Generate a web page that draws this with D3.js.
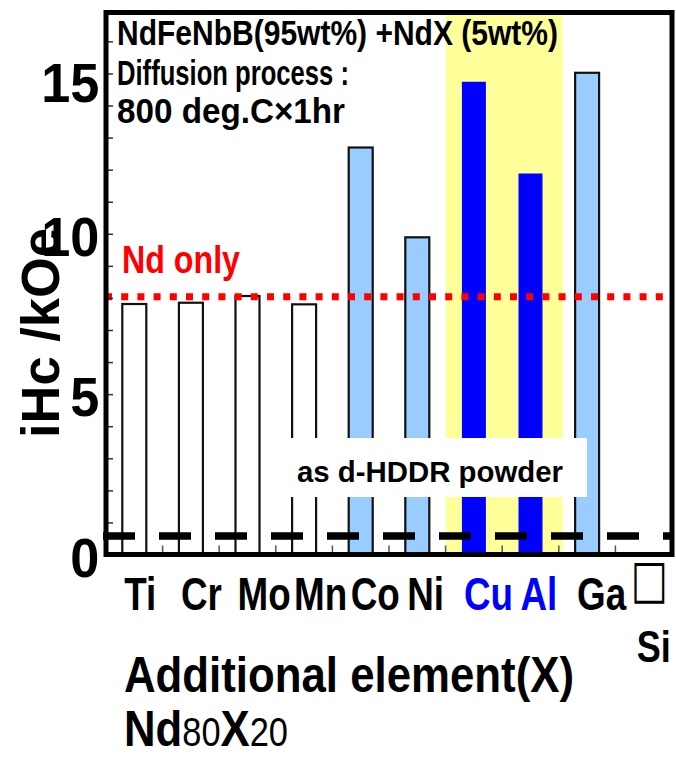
<!DOCTYPE html>
<html>
<head>
<meta charset="utf-8">
<script src="https://cdn.jsdelivr.net/npm/d3@7"></script>
<style>
  html, body { margin: 0; padding: 0; background: #fff; }
  svg { display: block; }
</style>
</head>
<body>
<svg id="chart" width="676" height="757"></svg>
<script>
// Coercivity of NdFeNbB d-HDDR powder blended with 5 wt% Nd80X20, per additive X
const elements = ["Ti", "Cr", "Mo", "Mn", "Co", "Ni", "Cu", "Al", "Ga", "Si"];
const iHc = [7.81, 7.85, 8.06, 7.80, 12.69, 9.89, 14.74, 11.88, 15.02, null];
const barKind = ["plain", "plain", "plain", "plain", "light", "light", "strong", "strong", "light", "plain"];
const highlighted = ["Cu", "Al"];
const yTickLabels = [0, 5, 10, 15];
const ndOnlyLevel = 8.04;     // Nd-only addition
const hddrLevel = 0.58;       // as d-HDDR powder

const FONT = "'Liberation Sans', Arial, 'Noto Sans', sans-serif";
const fills = { plain: "#ffffff", light: "#99ccff", strong: "#0000ff" };
const frame = { left: 106, right: 672, top: 12.5, bottom: 554.5 };

const svg = d3.select("#chart");

const x = d3.scaleBand()
  .domain(elements)
  .range([frame.left, frame.right])
  .paddingInner(0.576)
  .paddingOuter(0.288);

const y = d3.scaleLinear()
  .domain([0, 16.9])
  .range([frame.bottom, frame.top]);

const halfGap = x.step() * x.paddingInner() / 2;

// bold, horizontally condensed text
function label(parent, str, px, py, size, sx, fill) {
  return parent.append("text")
    .attr("transform", `translate(${px},${py}) scale(${sx},1)`)
    .attr("font-family", FONT)
    .attr("font-weight", "bold")
    .attr("font-size", size)
    .attr("fill", fill || "#000")
    .text(str);
}

// bold text squeezed or stretched to a given run length
function fitted(parent, str, px, py, size, len, fill) {
  return parent.append("text")
    .attr("x", px).attr("y", py)
    .attr("font-family", FONT)
    .attr("font-weight", "bold")
    .attr("font-size", size)
    .attr("fill", fill || "#000")
    .attr("textLength", len)
    .attr("lengthAdjust", "spacingAndGlyphs")
    .text(str);
}

// highlighted Cu / Al column
const hx0 = x(highlighted[0]) - halfGap;
const hx1 = x(highlighted[highlighted.length - 1]) + x.bandwidth() + halfGap + 4;
svg.append("rect")
  .attr("x", hx0).attr("y", frame.top)
  .attr("width", hx1 - hx0).attr("height", frame.bottom - frame.top)
  .attr("fill", "#ffff99");

// bars
const rows = elements.map((e, i) => ({ e, v: iHc[i], kind: barKind[i] }))
  .filter(d => d.v != null);
svg.append("g").selectAll("rect")
  .data(rows)
  .join("rect")
  .attr("x", d => x(d.e))
  .attr("y", d => y(d.v))
  .attr("width", x.bandwidth())
  .attr("height", d => y(0) - y(d.v))
  .attr("fill", d => fills[d.kind])
  .attr("stroke", d => d.kind === "strong" ? "none" : "#111")
  .attr("stroke-width", 2.2);

// label box for the d-HDDR level
svg.append("rect")
  .attr("x", 290).attr("y", 438)
  .attr("width", 297).attr("height", 59)
  .attr("fill", "#fff");
fitted(svg, "as d-HDDR powder", 297, 482, 30, 266);

// Nd-only reference (red dotted)
svg.append("line")
  .attr("x1", frame.left - 1).attr("x2", frame.right)
  .attr("y1", y(ndOnlyLevel)).attr("y2", y(ndOnlyLevel))
  .attr("stroke", "#ff0000").attr("stroke-width", 7)
  .attr("stroke-dasharray", "7 9.2");
fitted(svg, "Nd only", 122, 273, 39, 118, "#ff0000");

// d-HDDR reference (black dashed)
svg.append("line")
  .attr("x1", 103).attr("x2", frame.right)
  .attr("y1", y(hddrLevel)).attr("y2", y(hddrLevel))
  .attr("stroke", "#000").attr("stroke-width", 7.5)
  .attr("stroke-dasharray", "32 24");

// inner tick marks on the category axis, at band boundaries
svg.append("g").selectAll("line")
  .data(elements.slice(1))
  .join("line")
  .attr("x1", d => x(d) - halfGap).attr("x2", d => x(d) - halfGap)
  .attr("y1", frame.bottom - 2).attr("y2", frame.bottom - 9)
  .attr("stroke", "#555").attr("stroke-width", 1.5);

// value axis: inward minor ticks every 1 kOe, labels every 5
const yAxis = d3.axisLeft(y)
  .tickValues(d3.range(0, 17))
  .tickSize(-7)
  .tickPadding(7)
  .tickFormat(d => yTickLabels.includes(d) ? d : "");
const ya = svg.append("g")
  .attr("transform", `translate(${frame.left},0)`)
  .call(yAxis);
ya.select(".domain").remove();
ya.selectAll(".tick line").attr("stroke", "#333").attr("stroke-width", 1.5);
ya.selectAll(".tick text")
  .attr("font-family", FONT)
  .attr("font-weight", "bold")
  .attr("font-size", 55)
  .attr("dy", "0.36em")
  .attr("fill", "#000")
  .attr("transform", d => `translate(0,${d === 15 ? 8 : 2}) scale(0.95,1)`);

// plot frame
svg.append("rect")
  .attr("x", frame.left).attr("y", frame.top)
  .attr("width", frame.right - frame.left)
  .attr("height", frame.bottom - frame.top)
  .attr("fill", "none").attr("stroke", "#000").attr("stroke-width", 5);

// condition notes
fitted(svg, "NdFeNbB(95wt%) +NdX  (5wt%)", 117, 45, 35, 441);
fitted(svg, "Diffusion process :", 117, 85, 35, 232);
fitted(svg, "800 deg.C×1hr", 117, 123, 35, 228);

// category labels, aligned to each bar's left edge
const xl = svg.append("g");
elements.forEach(e => {
  if (e === "Si") return;
  label(xl, e, x(e) + 2, 610, 46, 0.8, highlighted.includes(e) ? "#0000ff" : "#000");
});
xl.append("text")
  .attr("transform", `translate(${x("Si") - 1},597) scale(1.15,1.55)`)
  .attr("font-family", "'DejaVu Sans', sans-serif")
  .attr("font-size", 34)
  .attr("fill", "#000")
  .text("□");
label(xl, "Si", x("Si") + 5, 662, 44, 0.82);

// value axis title
svg.append("text")
  .attr("transform", "translate(59,333) rotate(-90)")
  .attr("text-anchor", "middle")
  .attr("font-family", FONT)
  .attr("font-weight", "bold")
  .attr("font-size", 54)
  .attr("textLength", 210)
  .attr("lengthAdjust", "spacingAndGlyphs")
  .text("iHc /kOe");

// category axis title
fitted(svg, "Additional element(X)", 124, 692, 50, 450);
const t2 = svg.append("text")
  .attr("transform", "translate(124,746) scale(0.93,1.08)")
  .attr("font-family", FONT)
  .attr("font-weight", "bold")
  .attr("font-size", 47);
t2.append("tspan").text("Nd");
t2.append("tspan").attr("font-weight", "normal").attr("font-size", 37).text("80");
t2.append("tspan").text("X");
t2.append("tspan").attr("font-weight", "normal").attr("font-size", 37).text("20");
</script>
</body>
</html>
